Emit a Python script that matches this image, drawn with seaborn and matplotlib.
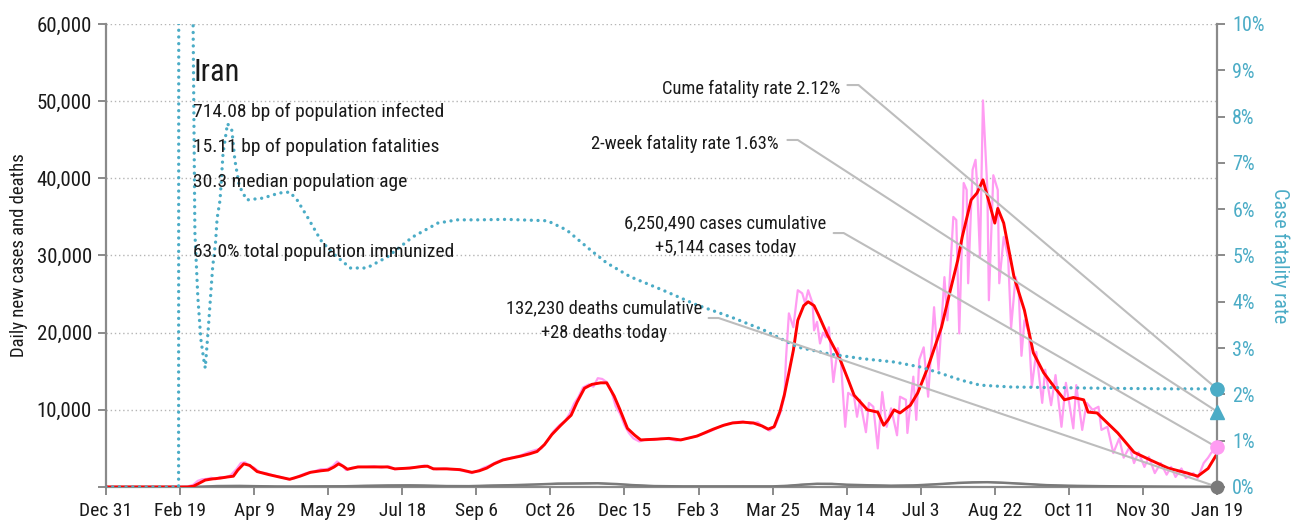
import matplotlib
matplotlib.use("Agg")
import matplotlib.pyplot as plt
import seaborn as sns
from matplotlib import font_manager as fm

# ---- daily new cases, 7-day average (day 0 = Dec 31, 2019) ----
avg_days = [0, 55, 59, 63, 67, 72, 77, 82, 86, 89, 93, 97, 102, 110, 118, 124, 131, 138, 145, 150,
            154, 157, 160, 163, 170, 180, 190, 195, 205, 213, 217, 221, 230, 239, 247, 252, 257, 262,
            268, 275, 280, 286, 291, 296, 301, 307, 314, 318, 323, 328, 334, 338, 343, 347, 352, 357,
            361, 372, 380, 388, 399, 410, 417, 423, 430, 437, 443, 447, 451, 455, 458, 461, 464, 467,
            471, 474, 478, 481, 487, 495, 501, 505, 514, 521, 525, 528, 532, 536, 543, 548, 555, 564,
            570, 575, 578, 584, 588, 592, 597, 600, 602, 606, 613, 620, 626, 633, 640, 647, 653, 660,
            663, 669, 676, 683, 694, 705, 717, 730, 737, 744, 750]
avg_cases = [0, 0, 100, 500, 900, 1050, 1150, 1300, 1400, 2200, 3000, 2800, 2000, 1600, 1250, 1000,
             1400, 1900, 2100, 2200, 2600, 3000, 2700, 2300, 2600, 2600, 2600, 2350, 2450, 2650, 2700,
             2350, 2350, 2250, 1900, 2100, 2450, 3000, 3500, 3800, 4000, 4300, 4600, 5500, 6800, 8000,
             9300, 11000, 12800, 13300, 13500, 13500, 11800, 10000, 7600, 6700, 6100, 6200, 6300, 6100,
             6600, 7500, 8000, 8300, 8400, 8300, 7900, 7500, 7800, 9800, 12000, 14800, 17700, 21600,
             23500, 24000, 23500, 22300, 19700, 16800, 13900, 11900, 10000, 9700, 8000, 8700, 10000,
             9600, 10600, 12200, 15600, 20700, 25500, 29400, 32400, 37200, 38100, 39800, 36300, 34200,
             36100, 34200, 27200, 22900, 17400, 14800, 13000, 11300, 11600, 11300, 9700, 9600, 8300,
             7000, 4500, 3500, 2450, 1800, 1400, 2400, 4300]

# ---- daily new cases, reported ----
raw_days = [0, 50, 55, 59, 62, 65, 68, 71, 74, 77, 80, 84, 88, 91, 94, 97, 100, 104, 108, 113, 118,
            123, 127, 131, 135, 140, 145, 149, 153, 156, 159, 162, 166, 171, 176, 181, 186, 191, 195,
            200, 205, 210, 215, 219, 223, 228, 233, 238, 243, 247, 251, 255, 259, 263, 267, 271, 276,
            280, 285, 290, 294, 298, 302, 306, 310, 313, 316, 319, 322, 326, 329, 332, 335, 338, 341,
            344, 347, 350, 353, 356, 360, 365, 370, 375, 380, 385, 390, 395, 400, 405, 410, 415, 420,
            425, 430, 435, 440, 444, 448, 452, 455, 458, 459, 461, 464, 467, 470, 472, 474, 477, 478,
            480, 482, 484, 486, 488, 491, 494, 496, 499, 501, 505, 507, 509, 513, 515, 518, 521, 524,
            527, 530, 534, 536, 540, 541, 545, 547, 549, 552, 555, 559, 562, 566, 568, 572, 574, 576,
            579, 581, 582, 585, 587, 588, 590, 592, 595, 596, 599, 602, 603, 606, 609, 611, 614, 616,
            618, 620, 623, 625, 628, 632, 634, 638, 641, 645, 648, 653, 655, 659, 662, 666, 670, 672,
            676, 680, 684, 687, 691, 694, 697, 701, 704, 708, 712, 716, 719, 722, 726, 729, 734, 737,
            741, 744, 746, 750]
raw_cases = [0, 0, 50, 300, 800, 1000, 1050, 1200, 1000, 1300, 1200, 1500, 2300, 3100, 3200, 2700,
             2500, 1900, 1800, 1500, 1300, 1000, 1100, 1500, 1800, 2000, 2300, 2300, 2700, 3300, 2900,
             2200, 2500, 2600, 2600, 2700, 2500, 2700, 2300, 2400, 2500, 2600, 2800, 2500, 2300, 2400,
             2300, 2200, 2000, 1800, 2100, 2500, 2800, 3200, 3500, 3700, 3900, 4100, 4500, 4800, 5000,
             6000, 7200, 8000, 8600, 9500, 10800, 11700, 12900, 13300, 13000, 14100, 14000, 13600,
             12500, 10500, 9500, 8000, 7000, 6300, 5900, 6200, 6100, 6300, 6200, 6000, 6200, 6400, 6700,
             7000, 7400, 7900, 8200, 8400, 8500, 8200, 8400, 7700, 7300, 8000, 9500, 11700, 16500, 22500,
             20700, 25500, 25100, 23800, 25500, 23800, 20300, 21400, 18600, 20000, 19400, 20700, 13600,
             18000, 16500, 7800, 12200, 11700, 9100, 11300, 7100, 10900, 10400, 5000, 12300, 7800, 10200,
             6700, 11700, 11300, 7000, 14300, 8700, 16500, 18100, 11700, 23300, 15200, 27200, 21600,
             35000, 34600, 19900, 39400, 38500, 26400, 41100, 42400, 39400, 29800, 50100, 38500, 24200,
             40400, 38500, 26400, 32400, 29800, 20600, 27200, 25900, 17000, 21600, 20000, 13000, 17500,
             10900, 15200, 10600, 14500, 7800, 13500, 7600, 13200, 7400, 10900, 10000, 10400, 7400, 7800,
             4400, 6300, 3800, 5200, 3100, 4500, 2600, 3900, 1800, 3100, 1600, 2600, 1300, 2400, 1150,
             1800, 1150, 3100, 3800, 4400, 5144]

# ---- daily deaths ----
death_days = [0, 50, 58, 65, 75, 90, 100, 115, 125, 140, 160, 175, 190, 205, 215, 230, 245, 260, 275,
              290, 305, 320, 332, 345, 355, 370, 390, 410, 430, 450, 460, 470, 480, 490, 500, 515, 530,
              545, 560, 575, 585, 595, 605, 620, 635, 650, 670, 690, 710, 730, 750]
death_avg = [0, 0, 5, 40, 120, 140, 110, 70, 60, 80, 90, 150, 200, 210, 190, 120, 110, 180, 240, 330,
             430, 460, 480, 380, 250, 120, 80, 80, 80, 80, 150, 300, 420, 400, 300, 220, 170, 200, 350,
             520, 600, 620, 560, 400, 240, 160, 110, 75, 55, 35, 28]
death_raw = [0, 0, 10, 60, 150, 120, 130, 60, 80, 70, 110, 170, 190, 230, 170, 140, 100, 200, 260, 300,
             460, 440, 500, 360, 270, 110, 90, 70, 95, 70, 170, 320, 400, 430, 280, 240, 150, 230, 330,
             560, 580, 650, 540, 420, 220, 170, 100, 85, 50, 40, 28]

# ---- case fatality rate, percent ----
cfr_days = [0, 49, 50, 53, 56, 58, 60, 62, 64, 66, 67, 69, 72, 74, 75, 77, 79, 82, 85, 87, 90, 95, 106,
            117, 124, 129, 136, 145, 153, 165, 176, 190, 207, 224, 237, 251, 270, 298, 311, 327, 338,
            354, 376, 399, 422, 444, 467, 489, 511, 532, 550, 563, 577, 590, 611, 633, 680, 720, 750]
cfr_pct = [0, 0, 100, 60, 30, 13, 5.5, 4.1, 3.2, 2.75, 2.57, 3.4, 4.75, 5.3, 5.8, 6.2, 7.2, 7.85, 7.7,
           7.06, 6.5, 6.2, 6.24, 6.35, 6.37, 6.2, 5.83, 5.33, 5.05, 4.73, 4.73, 4.97, 5.4, 5.7, 5.77,
           5.77, 5.78, 5.75, 5.55, 5.12, 4.84, 4.54, 4.25, 3.93, 3.67, 3.39, 3.02, 2.87, 2.77, 2.7, 2.59,
           2.46, 2.31, 2.2, 2.16, 2.15, 2.13, 2.12, 2.12]

# ---- axis labels and summary text ----
x_tick_days = list(range(0, 751, 50))
x_tick_labels = ["Dec 31", "Feb 19", "Apr 9", "May 29", "Jul 18", "Sep 6", "Oct 26", "Dec 15",
                 "Feb 3", "Mar 25", "May 14", "Jul 3", "Aug 22", "Oct 11", "Nov 30", "Jan 19"]
case_ticks = list(range(0, 60001, 10000))
case_tick_labels = ["", "10,000", "20,000", "30,000", "40,000", "50,000", "60,000"]
cfr_ticks = list(range(0, 11))
cfr_tick_labels = [f"{v}%" for v in cfr_ticks]

country = "Iran"
summary_lines = ["714.08 bp of population infected", "15.11 bp of population fatalities",
                 "30.3 median population age", "63.0% total population immunized"]
cume_cfr = 2.12
two_week_cfr = 1.63
cases_cumulative = 6250490
cases_today = 5144
deaths_cumulative = 132230
deaths_today = 28
last_day = 750

# ---- style ----
sns.set_theme(style="white")
installed = {f.name for f in fm.fontManager.ttflist}
narrow = [n for n in ["Roboto Condensed", "Liberation Sans Narrow", "Open Sans Condensed",
                      "DejaVu Sans Condensed", "Noto Sans Condensed"] if n in installed]
if narrow:
    plt.rcParams["font.family"] = [narrow[0], "DejaVu Sans"]
else:
    plt.rcParams["font.family"] = ["DejaVu Sans"]
    if any(f.name == "DejaVu Sans" and f.stretch == "condensed" for f in fm.fontManager.ttflist):
        plt.rcParams["font.stretch"] = "condensed"

PINK = "#ff9cf2"
RED = "#ff0000"
TEAL = "#4bacc6"
GREY = "#8a8a8a"
LEADER = "#bdbdbd"
INK = "#1a1a1a"

fig = plt.figure(figsize=(12.91, 5.22), dpi=100)
ax = fig.add_axes([106 / 1291, 35 / 522, 1111 / 1291, 463 / 522])
ax2 = ax.twinx()

# cases and deaths
sns.lineplot(x=raw_days, y=raw_cases, ax=ax, color=PINK, lw=1.6, legend=False, zorder=2)
sns.lineplot(x=death_days, y=death_raw, ax=ax, color="#a8a8a8", lw=1.2, legend=False, zorder=2)
sns.lineplot(x=death_days, y=death_avg, ax=ax, color="#7a7a7a", lw=1.8, legend=False, zorder=3)
sns.lineplot(x=avg_days, y=avg_cases, ax=ax, color=RED, lw=2.1, legend=False, zorder=4)

# case fatality rate
sns.lineplot(x=cfr_days, y=cfr_pct, ax=ax2, color=TEAL, lw=2.4, legend=False,
             linestyle=(0, (0.01, 2.0)), dash_capstyle="round", zorder=3)

ax.set_xlim(0, last_day)
ax.set_ylim(0, 60000)
ax2.set_ylim(0, 10)

ax.set_xticks(x_tick_days)
ax.set_xticklabels(x_tick_labels)
ax.set_yticks(case_ticks)
ax.set_yticklabels(case_tick_labels)
ax2.set_yticks(cfr_ticks)
ax2.set_yticklabels(cfr_tick_labels)

ax.yaxis.grid(True, color="#b5b5b5", lw=1.0, linestyle=(0, (1, 2)))
ax.xaxis.grid(False)
ax2.grid(False)

for s in ["top", "right"]:
    ax.spines[s].set_visible(False)
for s in ["top", "left", "bottom"]:
    ax2.spines[s].set_visible(False)
for s in ["left", "bottom"]:
    ax.spines[s].set_color(GREY)
    ax.spines[s].set_linewidth(1.6)
ax2.spines["right"].set_color(GREY)
ax2.spines["right"].set_linewidth(1.6)

ax.tick_params(axis="x", direction="out", length=6, width=1.4, color=GREY, labelsize=14,
               labelcolor=INK, pad=5, bottom=True)
ax.tick_params(axis="y", direction="out", length=6, width=1.4, color=GREY, labelsize=15,
               labelcolor=INK, pad=4, left=True)
ax2.tick_params(axis="y", direction="out", length=6, width=1.4, color=GREY, labelsize=14.5,
                labelcolor=TEAL, pad=5, right=True)

ax.set_ylabel("Daily new cases and deaths", fontsize=13.5, color=INK, labelpad=6)
ax2.set_ylabel("Case fatality rate", fontsize=14.5, color=TEAL, rotation=270, labelpad=18)
ax.set_xlabel("")

# summary block
ax2.text(58.8, 52610, country, transform=ax.transData, fontsize=22, color=INK, ha="left",
         va="baseline", zorder=6)
for line, yb in zip(summary_lines, [47950, 43410, 38870, 29800]):
    ax2.text(58.8, yb, line, transform=ax.transData, fontsize=14, color=INK, ha="left",
             va="baseline", zorder=6)

# end-point markers
cfr_to_cases = 60000 / 10
ax2.plot([last_day], [cume_cfr], "o", color=TEAL, ms=9.5, clip_on=False, zorder=8)
ax2.plot([last_day], [two_week_cfr], "^", color=TEAL, ms=10.5, clip_on=False, zorder=8)
ax2.plot([last_day], [cases_today], "o", color=PINK, ms=9.5, clip_on=False, zorder=8,
         transform=ax.transData)
ax2.plot([last_day], [deaths_today], "o", color="#7a7a7a", ms=9, clip_on=False, zorder=8,
         transform=ax.transData)

# callouts with leader lines
def callout(lines, x_text, y_bases, ha, start, elbow_x, target_y):
    for txt, yb in zip(lines, y_bases):
        ax2.text(x_text, yb, txt, transform=ax.transData, fontsize=13.3, color=INK, ha=ha,
                 va="baseline", zorder=6)
    ax2.plot([start[0], elbow_x, last_day], [start[1], start[1], target_y], color=LEADER, lw=1.5,
             transform=ax.transData, clip_on=False, zorder=5)

callout([f"Cume fatality rate {cume_cfr:.2f}%"], 496, [50900], "right", (500.5, 52090), 508,
        cume_cfr * cfr_to_cases)
callout([f"2-week fatality rate {two_week_cfr:.2f}%"], 454, [43800], "right", (460, 44970), 467,
        two_week_cfr * cfr_to_cases)
callout([f"{cases_cumulative:,} cases cumulative", f"+{cases_today:,} cases today"], 418.2,
        [33560, 30320], "center", (491.2, 32910), 498, cases_today)
callout([f"{deaths_cumulative:,} deaths cumulative", f"+{deaths_today:,} deaths today"], 336.1,
        [22550, 19310], "center", (406.8, 21900), 413.5, deaths_today)

fig.savefig("out.png", dpi=100)
